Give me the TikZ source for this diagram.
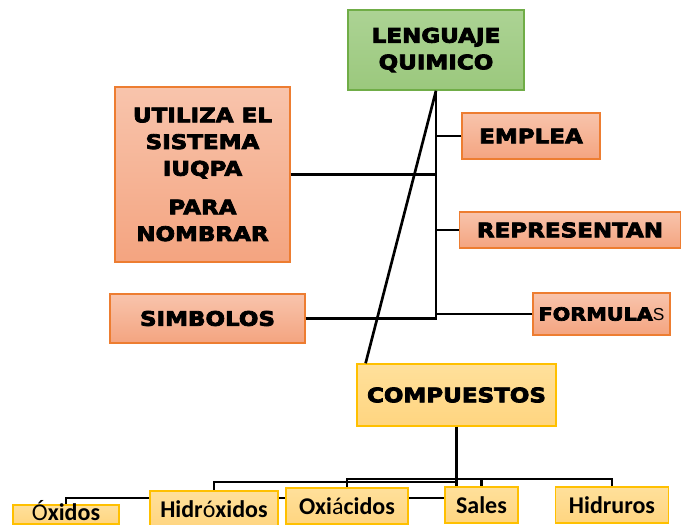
\documentclass[tikz,border=0pt]{standalone}
\usepackage{fontspec}
\usepackage{tikz}
\usetikzlibrary{positioning, backgrounds}
\newfontfamily\headfont[FakeStretch=1.15, FakeBold=4]{DejaVu Sans Bold}
\newfontfamily\leaffont{Carlito}
\newfontfamily\slimfont{Liberation Sans}
\definecolor{salTop}{RGB}{248,196,172}
\definecolor{salBot}{RGB}{244,164,128}
\definecolor{salEdge}{RGB}{237,125,49}
\definecolor{grnTop}{RGB}{172,211,148}
\definecolor{grnBot}{RGB}{155,200,125}
\definecolor{grnEdge}{RGB}{112,173,71}
\definecolor{ylwTop}{RGB}{255,224,155}
\definecolor{ylwBot}{RGB}{255,213,128}
\definecolor{ylwEdge}{RGB}{255,192,0}

\begin{document}
\begin{tikzpicture}[
    x=0.75pt, y=-0.75pt,
    box/.style={rectangle, draw=salEdge, line width=1.1pt, top color=salTop, bottom color=salBot, align=center, inner sep=0pt, font=\headfont\fontsize{15}{20}\selectfont},
    root/.style={box, draw=grnEdge, top color=grnTop, bottom color=grnBot},
    group/.style={box, draw=ylwEdge, top color=ylwTop, bottom color=ylwBot},
    leaf/.style={group, font=\leaffont\bfseries\fontsize{18}{19}\selectfont},
    link/.style={line width=2pt, black},
    sublink/.style={line width=1.6pt, black}
]
\useasboundingbox (0,0) rectangle (683,525);

% Top: Lenguaje quimico
\node[root, minimum width=132pt, minimum height=60pt] (lenguaje) at (436,50) {LENGUAJE\\QUIMICO};

% Branches of the trunk
\node[box, minimum width=131pt, minimum height=131pt] (utiliza) at (202.5,174.5) {UTILIZA EL\\SISTEMA\\IUQPA\\[9pt]PARA\\NOMBRAR};
\node[box, minimum width=103.5pt, minimum height=34.5pt] (emplea) at (531,136) {EMPLEA};
\node[box, minimum width=166pt, minimum height=27pt] (representan) at (570,230) {REPRESENTAN};
\node[box, minimum width=102.75pt, minimum height=31.5pt, font=\headfont\fontsize{13.5}{16}\selectfont] (formulas) at (601.5,314) {FORMULA{\slimfont\fontsize{13}{16}\selectfont S}};
\node[box, minimum width=146.25pt, minimum height=36.75pt] (simbolos) at (207.5,318.5) {SIMBOLOS};

% Compuestos
\node[group, minimum width=149.25pt, minimum height=46.5pt] (compuestos) at (456.5,395) {COMPUESTOS};

% Kinds of compounds
\node[leaf, minimum width=79.5pt, minimum height=14.5pt, text height=11.5pt, text depth=3pt] (oxidos) at (66,514.5) {{\mdseries Ó}xidos};
\node[leaf, minimum width=96pt, minimum height=27pt] (hidroxidos) at (214,509) {Hidr{\mdseries ó}xidos};
\node[leaf, minimum width=91.5pt, minimum height=27pt] (oxiacidos) at (347,506) {Oxi{\mdseries á}cidos};
\node[leaf, minimum width=54.75pt, minimum height=27pt] (sales) at (481.5,505) {Sales};
\node[leaf, minimum width=84.75pt, minimum height=27pt] (hidruros) at (612,505) {Hidruros};

% Trunk and its branches
\draw[link] (simbolos.east) -| (lenguaje.south);
\draw[link] (utiliza.east) -- (utiliza.east -| lenguaje.south);
\draw[link] (emplea.west) -- (emplea.west -| lenguaje.south);
\draw[link] (representan.west) -- (representan.west -| lenguaje.south);
\draw[link] (formulas.west) -- (formulas.west -| lenguaje.south);
\draw[link] (lenguaje.south) -- ([xshift=7pt]compuestos.north west);

% Compuestos to its kinds
\coordinate (bus) at (compuestos.south |- 0,479);
\coordinate (bus2) at (compuestos.south |- 0,482);
\coordinate (lowbus) at (compuestos.south |- 0,498);
\draw[link] (compuestos.south) -- (compuestos.south |- sales.north);
\draw[sublink] (bus) -| (hidruros.north);
\draw[sublink] (bus) -| (sales.north);
\draw[sublink] (bus) -| (oxiacidos.north);
\draw[sublink] (bus2) -| (hidroxidos.north);
\begin{scope}[on background layer]
\draw[sublink] (oxidos.north) |- (lowbus);
\end{scope}

\end{tikzpicture}
\end{document}
